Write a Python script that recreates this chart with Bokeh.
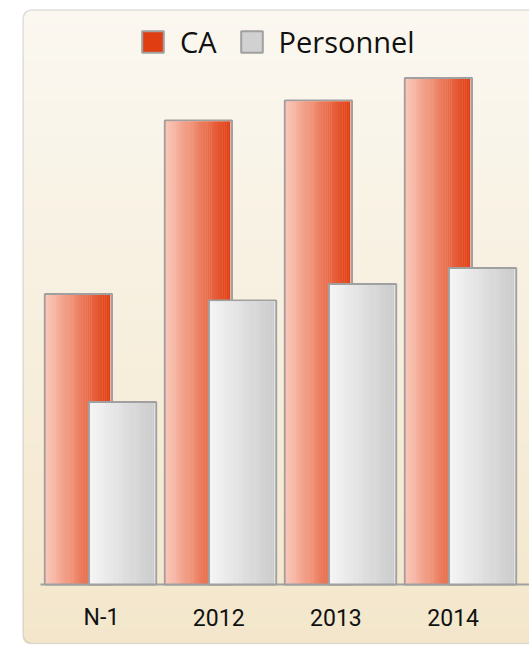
import numpy as np
from bokeh.plotting import figure
from bokeh.models import Range1d, BoxAnnotation, Legend, LegendItem
from bokeh.core.properties import value
from bokeh.embed import file_html
from bokeh.resources import INLINE

# ---- data ----
categories = ["N-1", "2012", "2013", "2014"]
ca_values = [58.1, 92.8, 96.8, 101.3]
personnel_values = [36.5, 56.8, 60.1, 63.3]
series_names = ["CA", "Personnel"]

# ---- layout (canvas pixels) ----
W, H = 529, 645
PX_X = 120.0   # px per category
PX_Y = 5.0     # px per value unit
X0 = 40.0      # canvas x of first category start
Y0 = 584.0     # canvas y of baseline


def sx(px):
    return (px - X0) / PX_X


def sy(py):
    return (Y0 - py) / PX_Y


def hexcol(c):
    return "#%02x%02x%02x" % tuple(int(round(v)) for v in c)


def lerp(c0, c1, t):
    return hexcol([a + (b - a) * t for a, b in zip(c0, c1)])


p = figure(width=W, height=H, output_backend="svg", toolbar_location=None,
           x_range=Range1d(sx(0), sx(W)), y_range=Range1d(sy(H), sy(0)),
           x_axis_location=None, y_axis_location=None, min_border=0,
           background_fill_color="white", border_fill_color="white")
p.grid.visible = False
p.outline_line_color = None

# ---- panel background (vertical gradient, rounded) ----
pan_l, pan_r, pan_t, pan_b, rad = 22.5, W + 30, 9.5, 643.0, 9
top_col = (251, 248, 241)
bot_col = (243, 230, 203)
p.add_layout(BoxAnnotation(left=sx(pan_l), right=sx(pan_r), top=sy(pan_t), bottom=sy(pan_t + rad + 2),
                           fill_color=hexcol(top_col), fill_alpha=1, line_color=None,
                           border_radius=rad, level="underlay"))
p.add_layout(BoxAnnotation(left=sx(pan_l), right=sx(pan_r), top=sy(pan_b - rad - 2), bottom=sy(pan_b),
                           fill_color=hexcol(bot_col), fill_alpha=1, line_color=None,
                           border_radius=rad, level="underlay"))
n_bg = 90
edges = np.linspace(pan_t + rad, pan_b - rad, n_bg + 1)
mids = (edges[:-1] + edges[1:]) / 2
tt = (mids - pan_t) / (pan_b - pan_t)
p.quad(left=[sx(pan_l)] * n_bg, right=[sx(pan_r)] * n_bg,
       top=[sy(e) for e in edges[:-1]], bottom=[sy(e + 0.6) for e in edges[1:]],
       fill_color=[lerp(top_col, bot_col, t) for t in tt], line_color=None)

# ---- bars ----
idx = np.arange(len(categories))
bar_w = 0.56
offset = 0.184
series = [
    (series_names[0], np.array(ca_values), idx + 0.5 - offset, "#E03E12", (249, 199, 185), (224, 62, 18)),
    (series_names[1], np.array(personnel_values), idx + 0.5 + offset, "#D1D1D1", (245, 245, 245), (203, 203, 203)),
]
legend_renderers = []
n_strip = 34
for name, vals, xs, solid, c_left, c_right in series:
    r = p.vbar(x=xs, top=vals, bottom=0, width=bar_w, fill_color=solid,
               line_color="#A0A0A0", line_width=2)
    legend_renderers.append(r)
    p.vbar(x=xs, top=vals - 1 / PX_Y, bottom=0, width=bar_w - 2 / PX_X,
           fill_color="white", line_color=None)
    L, R, T, C = [], [], [], []
    for xc, v in zip(xs, vals):
        left = xc - bar_w / 2 + 1 / PX_X
        right = xc + bar_w / 2 - 2 / PX_X
        e = np.linspace(left, right, n_strip + 1)
        for k in range(n_strip):
            L.append(e[k])
            R.append(e[k + 1] + 0.4 / PX_X)
            T.append(v - 1 / PX_Y)
            C.append(lerp(c_left, c_right, (k + 0.5) / n_strip))
    p.quad(left=L, right=R, top=T, bottom=[0] * len(L), fill_color=C, line_color=None)

# ---- axis line ----
p.segment(x0=[0], y0=[0], x1=[len(categories) + 0.6], y1=[0],
          line_color="#A0A0A0", line_width=2)

# ---- category labels ----
label_step = 0.977
p.text(x=[0.508 + i * label_step for i in idx], y=[sy(616.7)] * len(categories), text=categories,
       text_font=value("Roboto"), text_font_size="23px", text_align="center",
       text_baseline="alphabetic", text_color="#111111")

# ---- legend ----
legend = Legend(items=[LegendItem(label=n, renderers=[r]) for n, r in zip(series_names, legend_renderers)],
                orientation="horizontal", location=(139, H - 61.3),
                glyph_width=27, glyph_height=27, label_standoff=14, spacing=21,
                padding=0, margin=0, background_fill_alpha=0, border_line_alpha=0,
                label_text_font="Open Sans", label_text_font_size="29px", label_text_color="#111111")
p.add_layout(legend)

# ---- panel border ----
p.add_layout(BoxAnnotation(left=sx(pan_l), right=sx(pan_r), top=sy(pan_t), bottom=sy(pan_b),
                           fill_alpha=0, line_color="#A0A0A0", line_width=1.6,
                           border_radius=rad))

open("out.html", "w").write(file_html(p, INLINE))
